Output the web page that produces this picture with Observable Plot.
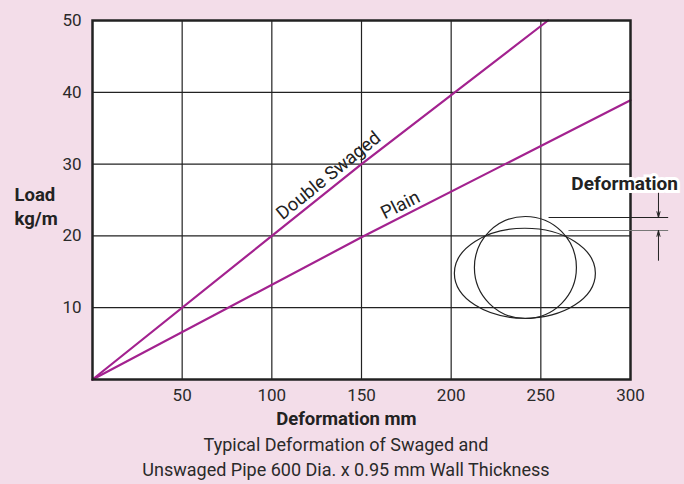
<!DOCTYPE html>
<html><head><meta charset="utf-8">
<script src="https://cdn.jsdelivr.net/npm/d3@7"></script>
<script src="https://cdn.jsdelivr.net/npm/@observablehq/plot@0.6"></script>
<style>
html,body{margin:0;padding:0;background:#f3dde9;}
#wrap{width:684px;height:484px;overflow:hidden;font-family:Roboto,"Noto Sans",sans-serif;}
#cap{width:684px;text-align:center;font-size:18px;line-height:25px;color:#2a2a2a;margin-left:4px;}
</style></head>
<body><div id="wrap"><div id="chart"></div><div id="cap">Typical Deformation of Swaged and<br>Unswaged Pipe 600 Dia. x 0.95 mm Wall Thickness</div></div>
<script>
// Data
const doubleSwaged = [{x:0,y:0},{x:100,y:20},{x:150,y:30},{x:254,y:50}];
const plain = [{x:0,y:0},{x:150,y:19.8},{x:300,y:38.9}];
const xTicks = [50,100,150,200,250,300];
const yTicks = [10,20,30,40,50];
const xGrid = [50,100,150,200,250];
const yGrid = [10,20,30,40];
const lineLabels = [
  {x:131.6,y:28.4,text:"Double Swaged",rotate:-39},
  {x:171.7,y:24.3,text:"Plain",rotate:-27}
];
// annotation (data units)
const circleShape = [{x:241.4,y:15.6}];
const ellipseShape = [{x:241.1,y:14.8}];
const hLines = [
  {x1:254.3,x2:321,y:22.56,c:"#222"},
  {x1:265.4,x2:321,y:20.75,c:"#777"}
];
const arrows = [
  {x:315.6,y1:26.0,y2:22.56},
  {x:315.6,y1:16.6,y2:20.75}
];
const defLabel = [{x:296.7,y:27.3,text:"Deformation"}];

const ellipseSymbol = {
  draw(ctx, size) {
    const rx = Math.sqrt(size / Math.PI), ry = rx * 45 / 70.5, k = 0.5523;
    ctx.moveTo(rx, 0);
    ctx.bezierCurveTo(rx, ry*k, rx*k, ry, 0, ry);
    ctx.bezierCurveTo(-rx*k, ry, -rx, ry*k, -rx, 0);
    ctx.bezierCurveTo(-rx, -ry*k, -rx*k, -ry, 0, -ry);
    ctx.bezierCurveTo(rx*k, -ry, rx, -ry*k, rx, 0);
    ctx.closePath();
  }
};

const purple = "#a3228f";
const plot = Plot.plot({
  width: 684, height: 432,
  marginLeft: 92, marginRight: 54, marginTop: 20, marginBottom: 53,
  style: {background: "transparent", fontFamily: "Roboto, 'Noto Sans', sans-serif", color: "#2a2a2a"},
  x: {domain: [0, 300]},
  y: {domain: [0, 50]},
  marks: [
    Plot.frame({fill: "white"}),
    Plot.ruleX(xGrid, {stroke: "#222", strokeWidth: 1.2}),
    Plot.ruleY(yGrid, {stroke: "#222", strokeWidth: 1.2}),
    Plot.axisX({ticks: xTicks, tickSize: 0, tickPadding: 9, fontSize: 17, label: null}),
    Plot.axisY({ticks: yTicks, tickSize: 0, tickPadding: 11, fontSize: 17, label: null}),
    Plot.line(doubleSwaged, {x: "x", y: "y", stroke: purple, strokeWidth: 2.2}),
    Plot.line(plain, {x: "x", y: "y", stroke: purple, strokeWidth: 2.2}),
    Plot.text(lineLabels, {x: "x", y: "y", text: "text", rotate: "rotate", fontSize: 18.5, fill: "#222"}),
    Plot.dot(circleShape, {x: "x", y: "y", r: 51, stroke: "#222", strokeWidth: 1.2, fill: "none"}),
    Plot.dot(ellipseShape, {x: "x", y: "y", r: 70.5, symbol: ellipseSymbol, stroke: "#222", strokeWidth: 1.2, fill: "none"}),
    Plot.frame({stroke: "#222", strokeWidth: 2.5}),
    Plot.link(hLines, {x1: "x1", x2: "x2", y1: "y", y2: "y", stroke: "c", strokeWidth: 1.2}),
    Plot.arrow(arrows, {x: "x", y1: "y1", y2: "y2", stroke: "#222", strokeWidth: 1, headLength: 9, headAngle: 30}),
    Plot.text(defLabel, {x: "x", y: "y", text: "text", fontSize: 19, fontWeight: "bold", fill: "#222", stroke: "white", strokeWidth: 6, strokeLinejoin: "miter"}),
    Plot.text(["Load\nkg/m"], {x: 0, y: 24.2, dx: -78, textAnchor: "start", lineAnchor: "middle", lineHeight: 1.3, fontSize: 18.5, fontWeight: "bold", fill: "#222"}),
    Plot.text(["Deformation mm"], {x: 141.6, y: 0, dy: 40, fontSize: 18.5, fontWeight: "bold", fill: "#222"})
  ]
});
plot.style.display = "block";
document.getElementById("chart").appendChild(plot);
</script></body></html>
